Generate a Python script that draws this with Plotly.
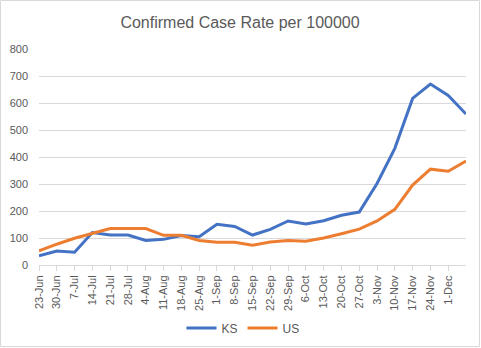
import plotly.graph_objects as go

# Weekly reporting dates (week starting)
weeks = ["23-Jun", "30-Jun", "7-Jul", "14-Jul", "21-Jul", "28-Jul", "4-Aug",
         "11-Aug", "18-Aug", "25-Aug", "1-Sep", "8-Sep", "15-Sep", "22-Sep",
         "29-Sep", "6-Oct", "13-Oct", "20-Oct", "27-Oct", "3-Nov", "10-Nov",
         "17-Nov", "24-Nov", "1-Dec", "8-Dec"]

# Confirmed cases per 100,000 residents
ks_rate = [34, 52, 47, 120, 111, 111, 91, 95, 109, 105, 151, 143, 111, 132,
           163, 152, 164, 184, 196, 302, 432, 617, 670, 628, 559]
us_rate = [52, 77, 99, 116, 135, 135, 135, 110, 110, 91, 84, 84, 73, 85,
           91, 88, 100, 116, 133, 163, 206, 296, 355, 347, 385]

y_ticks = [0, 100, 200, 300, 400, 500, 600, 700, 800]

W, H = 481, 348
ML, MR, MT, MB = 39, 15, 49, 83
FONT = "Liberation Sans"
GREY_TXT = "#595959"
GRID = "#D9D9D9"

xpos = list(range(len(weeks)))
labelled = xpos[:-1]

fig = go.Figure()
fig.add_trace(go.Scatter(x=xpos, y=ks_rate, name="KS", mode="lines",
                         line=dict(color="#4472C4", width=3), cliponaxis=False))
fig.add_trace(go.Scatter(x=xpos, y=us_rate, name="US", mode="lines",
                         line=dict(color="#ED7D31", width=3), cliponaxis=False))

pw = W - ML - MR
ph = H - MT - MB
# thin frame around the whole chart area
fig.add_shape(type="rect", xref="paper", yref="paper",
              x0=-(ML - 0.5) / pw, x1=(pw + MR - 1.5) / pw,
              y0=-(MB - 1.5) / ph, y1=(ph + MT - 0.5) / ph,
              line=dict(color=GRID, width=1), fillcolor="rgba(0,0,0,0)")

fig.update_layout(
    width=W, height=H,
    margin=dict(l=ML, r=MR, t=MT, b=MB, autoexpand=False),
    paper_bgcolor="white", plot_bgcolor="white",
    font=dict(family=FONT, color=GREY_TXT, size=11),
    title=dict(text="Confirmed Case Rate per 100000", x=240 / W, xref="container",
               xanchor="center", y=1 - 22 / H, yref="container", yanchor="middle",
               font=dict(size=16, color=GREY_TXT, family=FONT)),
    showlegend=True,
    legend=dict(orientation="h", xref="container", yref="container",
                x=243 / W, xanchor="center", y=1 - 328 / H, yanchor="middle",
                font=dict(size=12, color=GREY_TXT), itemwidth=30,
                bgcolor="rgba(0,0,0,0)"),
    xaxis=dict(range=[0, len(weeks) - 1], tickmode="array",
               tickvals=labelled, ticktext=[weeks[i] for i in labelled],
               tickangle=-90, showgrid=False, zeroline=False, automargin=False,
               showline=True, linecolor=GRID, linewidth=1,
               ticks="outside", ticklen=5, tickcolor=GRID,
               tickfont=dict(size=11, color=GREY_TXT)),
    yaxis=dict(range=[0, 800], tickmode="array", tickvals=y_ticks,
               showgrid=True, gridcolor=GRID, gridwidth=1, zeroline=False,
               showline=False, ticks="", ticklabelstandoff=10, automargin=False,
               tickfont=dict(size=11, color=GREY_TXT)),
)

fig.write_html("out.html")
